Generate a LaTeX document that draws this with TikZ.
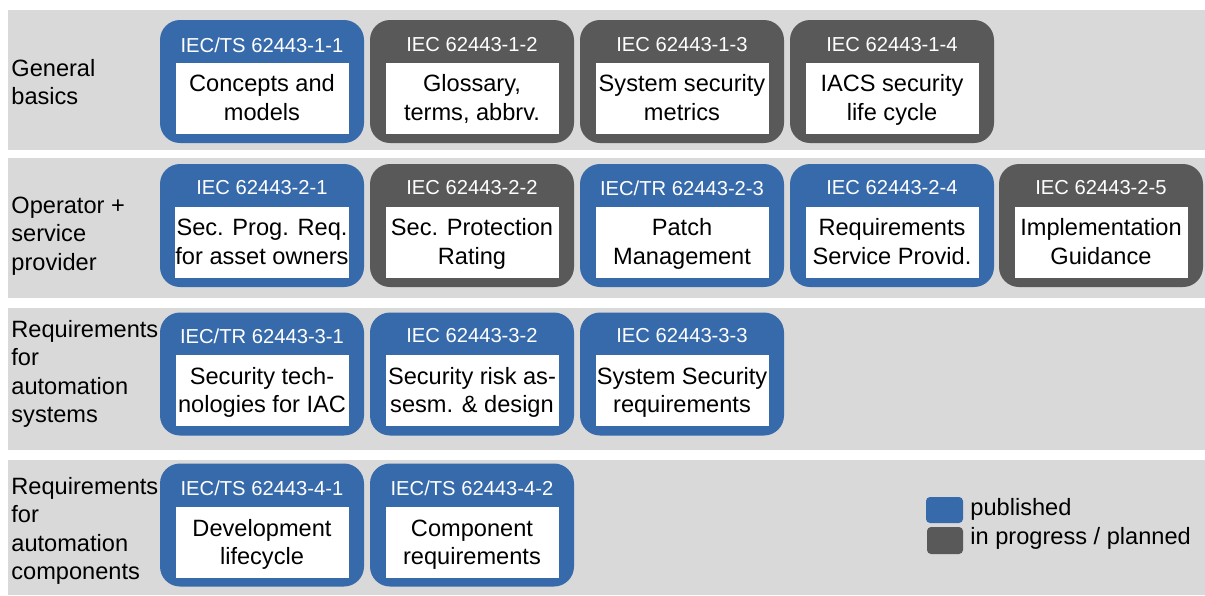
\documentclass[tikz,border=0pt]{standalone}
\usepackage{fontspec}
\setmainfont{Liberation Sans}
\definecolor{bandgray}{HTML}{D9D9D9}
\definecolor{pubblue}{HTML}{376AAA}
\definecolor{plangray}{HTML}{595959}
\newcommand{\bodyfont}{\fontsize{11.8}{14.2}\selectfont}
\newcommand{\headfont}{\fontsize{10.1}{12}\selectfont}
\begin{document}
\begin{tikzpicture}[x=0.5pt, y=-0.5pt,
	band/.style={fill=bandgray},
	pubbox/.style={fill=pubblue, rounded corners=10pt, minimum width=102pt, minimum height=61.5pt, inner sep=0pt},
	planbox/.style={pubbox, fill=plangray},
	head/.style={text=white, font=\headfont, inner sep=0pt},
	txt/.style={fill=white, minimum width=86.5pt, minimum height=35.5pt, inner sep=0pt, align=center, font=\bodyfont, text height=23.8pt, text depth=1.6pt},
	rowlabel/.style={anchor=west, align=left, inner sep=0pt, font=\bodyfont},
	legtxt/.style={anchor=west, inner sep=0pt, font=\bodyfont}]
	\useasboundingbox (0,0) rectangle (1205,595);
	% rows
	\fill[band] (8,10) rectangle (1205,150);
	\fill[band] (8,158) rectangle (1205,298);
	\fill[band] (8,308) rectangle (1205,450);
	\fill[band] (8,460) rectangle (1205,595);
	\node[rowlabel] (r1) at (11,82) {General\\basics};
	\node[rowlabel] (r2) at (11,236) {Operator +\\service\\provider};
	\node[rowlabel] (r3) at (11,374) {Requirements\\for\\automation\\systems};
	\node[rowlabel] (r4) at (11,531) {Requirements\\for\\automation\\components};
	% part 1
	\node[pubbox] (b11) at (262,81.5) {};
	\node[head] (h11) at (262,45) {IEC/TS 62443-1-1};
	\node[txt] (t11) at (262,98) {Concepts and\\models};
	\node[planbox] (b12) at (472,81.5) {};
	\node[head] (h12) at (472,45) {IEC 62443-1-2};
	\node[txt] (t12) at (472,98) {Glossary,\\terms, abbrv.};
	\node[planbox] (b13) at (682,81.5) {};
	\node[head] (h13) at (682,45) {IEC 62443-1-3};
	\node[txt] (t13) at (682,98) {System security\\metrics};
	\node[planbox] (b14) at (892,81.5) {};
	\node[head] (h14) at (892,45) {IEC 62443-1-4};
	\node[txt] (t14) at (892,98) {IACS security\\life cycle};
	% part 2
	\node[pubbox] (b21) at (262,225.5) {};
	\node[head] (h21) at (262,188) {IEC 62443-2-1};
	\node[txt] (t21) at (262,242) {Sec. Prog. Req.\\for asset owners};
	\node[planbox] (b22) at (472,225.5) {};
	\node[head] (h22) at (472,188) {IEC 62443-2-2};
	\node[txt] (t22) at (472,242) {Sec. Protection\\Rating};
	\node[pubbox] (b23) at (682,225.5) {};
	\node[head] (h23) at (682,188) {IEC/TR 62443-2-3};
	\node[txt] (t23) at (682,242) {Patch\\Management};
	\node[pubbox] (b24) at (892,225.5) {};
	\node[head] (h24) at (892,188) {IEC 62443-2-4};
	\node[txt] (t24) at (892,242) {Requirements\\Service Provid.};
	\node[planbox] (b25) at (1101,225.5) {};
	\node[head] (h25) at (1101,188) {IEC 62443-2-5};
	\node[txt] (t25) at (1101,242) {Implementation\\Guidance};
	% part 3
	\node[pubbox] (b31) at (262,374) {};
	\node[head] (h31) at (262,336) {IEC/TR 62443-3-1};
	\node[txt] (t31) at (262,390.5) {Security tech-\\nologies for IAC};
	\node[pubbox] (b32) at (472,374) {};
	\node[head] (h32) at (472,336) {IEC 62443-3-2};
	\node[txt] (t32) at (472,390.5) {Security risk as-\\sesm. \& design};
	\node[pubbox] (b33) at (682,374) {};
	\node[head] (h33) at (682,336) {IEC 62443-3-3};
	\node[txt] (t33) at (682,390.5) {System Security\\requirements};
	% part 4
	\node[pubbox] (b41) at (262,525) {};
	\node[head] (h41) at (262,488) {IEC/TS 62443-4-1};
	\node[txt] (t41) at (262,542.5) {Development\\lifecycle};
	\node[pubbox] (b42) at (472,525) {};
	\node[head] (h42) at (472,488) {IEC/TS 62443-4-2};
	\node[txt] (t42) at (472,542.5) {Component\\requirements};
	% legend
	\node[fill=pubblue, rounded corners=2pt, minimum width=18.5pt, minimum height=13pt, inner sep=0pt] (lpub) at (944.5,510) {};
	\node[fill=plangray, rounded corners=2pt, minimum width=18pt, minimum height=13.5pt, inner sep=0pt] (lplan) at (945,540.5) {};
	\node[legtxt] (lpubt) at (970,509) {published};
	\node[legtxt] (lplant) at (970,538) {in progress / planned};
\end{tikzpicture}
\end{document}
